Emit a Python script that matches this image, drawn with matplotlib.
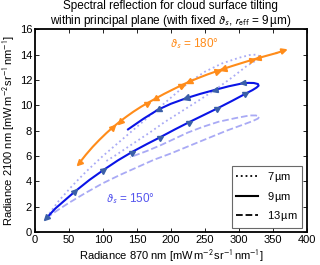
import numpy as np
import matplotlib
matplotlib.use("Agg")
import matplotlib.pyplot as plt
from matplotlib.markers import MarkerStyle
from matplotlib.transforms import Affine2D

plt.rcParams['font.family'] = ['Liberation Sans', 'DejaVu Sans']
plt.rcParams['mathtext.fontset'] = 'stixsans'
plt.rcParams['font.size'] = 8

# ---- data (radiance 870 nm, radiance 2100 nm) ----
# theta_s = 180 deg, r_eff = 9 um
o_x = [65, 75, 85, 95, 105, 115, 125, 135, 145, 156, 167, 177, 190, 203, 217, 227,
       240, 254, 269, 277, 290, 305, 319, 328, 340, 355, 372]
o_y = [5.42, 6.1, 6.72, 7.28, 7.8, 8.28, 8.72, 9.12, 9.5, 9.88, 10.22, 10.52, 10.9,
       11.25, 11.62, 11.86, 12.15, 12.44, 12.72, 12.87, 13.1, 13.35, 13.58, 13.72,
       13.9, 14.12, 14.42]
o_mark_x = [115, 125, 167, 177, 217, 227, 269, 277, 319, 328]
o_mark_dir = [1, -1, 1, -1, 1, -1, 1, -1, 1, -1]

# theta_s = 150 deg, r_eff = 9 um
b9_x = [17, 30, 45, 59, 80, 101, 122, 144, 165, 185, 206, 228, 249, 270, 290, 311,
        320, 326, 329, 328, 322, 314, 306, 285, 265, 243, 222, 200, 181, 160, 137]
b9_y = [1.1, 1.85, 2.55, 3.2, 4.1, 4.9, 5.65, 6.35, 6.95, 7.5, 8.1, 8.7, 9.25, 9.8,
        10.35, 10.95, 11.2, 11.4, 11.55, 11.68, 11.76, 11.77, 11.74, 11.5, 11.22,
        10.9, 10.55, 10.12, 9.65, 8.95, 8.1]
b9_mark_i = [3, 5, 7, 9, 11, 13, 15, 22, 24, 26, 28]

# theta_s = 150 deg, r_eff = 7 um
b7_x = [17, 35, 55, 75, 100, 125, 150, 175, 200, 225, 250, 275, 300, 316, 326, 331,
        329, 320, 311, 290, 267, 243, 218, 190, 169, 145, 120, 105]
b7_y = [1.15, 2.45, 3.65, 4.75, 6.0, 7.15, 8.3, 9.45, 10.6, 11.75, 12.65, 13.3,
        13.75, 13.97, 14.0, 13.85, 13.62, 13.38, 13.08, 12.2, 11.3, 10.45, 9.6, 8.65,
        7.85, 7.0, 6.1, 5.6]

# theta_s = 150 deg, r_eff = 13 um
b13_x = [17, 30, 50, 75, 100, 125, 150, 175, 200, 225, 250, 282, 305, 320, 328, 330,
         325, 316, 296, 270, 247, 225, 205, 185, 165, 140]
b13_y = [1.1, 1.6, 2.3, 3.1, 3.85, 4.5, 5.1, 5.7, 6.2, 6.75, 7.3, 8.0, 8.45, 8.75,
         8.95, 9.1, 9.2, 9.2, 9.0, 8.7, 8.3, 7.85, 7.35, 6.85, 6.4, 5.9]

legend_labels = ['7$\\,$µm', '9$\\,$µm', '13$\\,$µm']

ORANGE = '#ff8c1a'
BLUE = '#0a14e6'
LIGHT = '#a9aaf5'
MARKB = '#3a5fa8'

fig = plt.figure(figsize=(3.2, 2.65), dpi=100)
ax = fig.add_axes([0.109, 0.1245, 0.850, 0.765])
ax.set_xlim(0, 400)
ax.set_ylim(0, 16)

ax.plot(b7_x, b7_y, ls=':', color=LIGHT, lw=1.3)
ax.plot(b13_x, b13_y, ls='--', color=LIGHT, lw=1.3)
ax.plot(b9_x, b9_y, ls='-', color=BLUE, lw=1.5)
ax.plot(o_x[:-1], o_y[:-1], ls='-', color=ORANGE, lw=1.5)


def tri(x, y, x0, y0, x1, y1, color, size=4):
    p0 = ax.transData.transform((x0, y0))
    p1 = ax.transData.transform((x1, y1))
    ang = np.degrees(np.arctan2(p1[1] - p0[1], p1[0] - p0[0]))
    m = MarkerStyle('>', transform=Affine2D().rotate_deg(ang))
    ax.plot([x], [y], marker=m, color=color, ms=size, ls='none', mec=color)


# orange markers
for mx, d in zip(o_mark_x, o_mark_dir):
    i = o_x.index(mx)
    a, b = o_x[i - 1], o_y[i - 1]
    c, e = o_x[i + 1], o_y[i + 1]
    if d > 0:
        tri(o_x[i], o_y[i], a, b, c, e, ORANGE)
    else:
        tri(o_x[i], o_y[i], c, e, a, b, ORANGE)
# orange start (tail) and arrow head
tri(o_x[0], o_y[0], o_x[1], o_y[1], o_x[0], o_y[0], ORANGE)
ax.annotate('', xy=(o_x[-1], o_y[-1]), xytext=(o_x[-2], o_y[-2]),
            arrowprops=dict(arrowstyle='-|>', color=ORANGE, lw=1.5,
                            mutation_scale=8, shrinkA=0, shrinkB=0))

# blue markers
for i in b9_mark_i:
    tri(b9_x[i], b9_y[i], b9_x[i - 1], b9_y[i - 1], b9_x[i + 1], b9_y[i + 1], MARKB)
tri(b9_x[0], b9_y[0], b9_x[1], b9_y[1], b9_x[0], b9_y[0], MARKB)

ax.text(235, 14.85, r'$\vartheta_s$ = 180°', color=ORANGE, fontsize=8.5,
        ha='center', va='center')
ax.text(140, 2.6, r'$\vartheta_s$ = 150°', color='#5555ee', fontsize=8.5,
        ha='center', va='center')

h = [plt.Line2D([], [], color='k', ls=':', lw=1.3),
     plt.Line2D([], [], color='k', ls='-', lw=1.5),
     plt.Line2D([], [], color='k', ls='--', lw=1.3)]
leg = ax.legend(h, legend_labels, loc='lower right', fontsize=8, fancybox=False,
                handlelength=2.0, borderaxespad=0.4, labelspacing=0.5)
leg.get_frame().set_edgecolor('#444444')
leg.get_frame().set_linewidth(0.8)

ax.set_xticks(np.arange(0, 401, 50))
ax.set_yticks(np.arange(0, 17, 2))
ax.tick_params(direction='in', top=True, right=True, length=3, width=0.6,
               labelsize=8, pad=2)
for s in ax.spines.values():
    s.set_linewidth(1.3)

ax.set_xlabel('Radiance 870 nm [mW$\\,$m$^{-2}$$\\,$sr$^{-1}$$\\,$nm$^{-1}$]',
              fontsize=8, labelpad=2)
ax.set_ylabel('Radiance 2100 nm [mW$\\,$m$^{-2}$$\\,$sr$^{-1}$$\\,$nm$^{-1}$]',
              fontsize=8, labelpad=2)
ax.set_title('Spectral reflection for cloud surface tilting\n'
             'within principal plane (with fixed $\\vartheta_s$, '
             '$r_{\\mathrm{eff}}$ = 9$\\,$µm)', fontsize=8.5, pad=4,
             linespacing=1.1)

fig.savefig('out.png', dpi=100)
